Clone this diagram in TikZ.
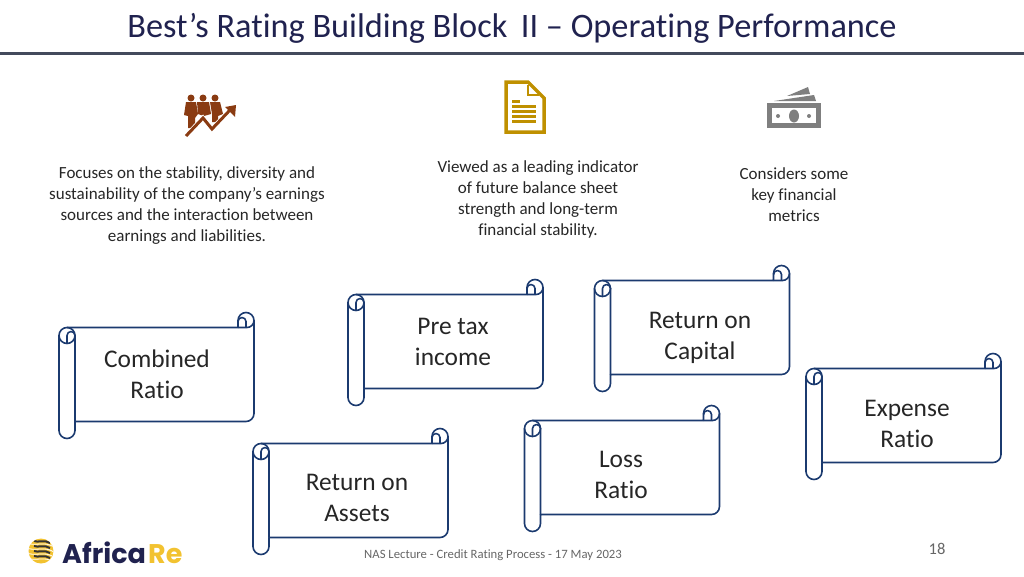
\documentclass[tikz,border=0pt]{standalone}
\usepackage{fontspec}
\setmainfont[Ligatures=CommonOff]{Carlito}
\newfontfamily\logofont{Poppins}
\definecolor{titleblue}{HTML}{20224F}
\definecolor{rulegray}{HTML}{434A5C}
\definecolor{scrollblue}{HTML}{1B3A6F}
\definecolor{iconbrown}{HTML}{8A3B12}
\definecolor{icongold}{HTML}{BF9000}
\definecolor{icongray}{HTML}{7F7F7F}
\definecolor{logoyellow}{HTML}{F2C230}
\tikzset{
  scrollline/.style={draw=scrollblue,line width=1.6pt,line join=round},
  scrolltext/.style={font=\fontsize{25.4}{31}\selectfont,align=center,text=black!85},
  bodytext/.style={font=\fontsize{17}{21}\selectfont,align=center,text=black!85},
}
\begin{document}
\begin{tikzpicture}[x=1pt,y=1pt]
        \useasboundingbox (0,0) rectangle (1024,-576);

        \node[font=\fontsize{34.3}{38}\selectfont,text=titleblue] (title) at (512,-28) {Best’s Rating Building Block\, II – Operating Performance};
        \draw[rulegray,line width=3pt] (0,-53) -- (1024,-53);

        % icons
        \fill[iconbrown] (191,-98) circle (3.5) (203,-98) circle (3.5) (215,-98) circle (3.5);
        \fill[iconbrown] (186,-102) -- (196,-102) -- (198,-114) -- (195,-118) -- (195,-128) -- (188,-128) -- (188,-116) -- (184,-115) -- cycle;
        \fill[iconbrown] (197,-102) -- (209,-102) -- (211,-114) -- (204,-116) -- (198,-114) -- cycle;
        \fill[iconbrown] (210,-102) -- (220,-102) -- (223,-114) -- (218,-116) -- (218,-122) -- (212,-122) -- (212,-114) -- cycle;
        \draw[white,line width=4.6pt] (186,-136) -- (203,-118) -- (212,-129) -- (230,-110);
        \draw[iconbrown,line width=3pt] (186,-136) -- (203,-118) -- (212,-129) -- (230,-110);
        \fill[iconbrown] (236,-105) -- (225,-107) -- (235,-117) -- cycle;

        \draw[icongold,line width=3.5pt,line join=miter] (506,-82) -- (528,-82) -- (544,-98) -- (544,-132) -- (506,-132) -- cycle;
        \draw[icongold,line width=2.5pt] (528,-85) -- (528,-95) -- (539,-95);
        \draw[icongold,line width=3pt] (512,-101) -- (520,-101);
        \foreach \y in {106,111,116,121}
          \draw[icongold,line width=3pt] (512,-\y) -- (536,-\y);

        \fill[icongray] (787,-96) -- (808,-87) -- (810,-94) -- cycle;
        \fill[icongray] (774,-101) -- (814,-95) -- (816,-101) -- cycle;
        \fill[icongray] (767,-103) rectangle (821,-128);
        \fill[white] (772,-108) rectangle (816,-123);
        \fill[icongray] (794,-116) ellipse (5 and 6.5);
        \fill[icongray] (778,-116) circle (2) (809,-116) circle (2);

        % text under the icons
        \node[bodytext] (earnings) at (187,-205.5) {Focuses on the stability, diversity and\\sustainability of the company’s earnings\\sources and the interaction between\\earnings and liabilities.};
        \node[bodytext] (indicator) at (538,-199.5) {Viewed as a leading indicator\\of future balance sheet\\strength and long-term\\financial stability.};
        \node[bodytext] (metrics) at (794,-195) {Considers some\\key financial\\metrics};

        % scrolls, left edge / top edge / text offset
        \foreach \bx/\by/\tx/\ty/\bname/\btext in {59/312.5/98/62/combined/{Combined\\Ratio},348/279.5/105/62/pretax/{Pre tax\\income},594.5/265.5/105.5/72/capital/{Return on\\Capital},806/353.5/101/70/expense/{Expense\\Ratio},524.5/405.5/96.5/69/loss/{Loss\\Ratio},253/428.5/104/69/assets/{Return on\\Assets}}
        {
          \begin{scope}[shift={(\bx,-\by)}]
            \draw[scrollline] (0,-23) arc[start angle=180,end angle=90,radius=8] -- (179,-15) -- (179,-8)
              arc[start angle=180,end angle=0,radius=8] -- (195,-101)
              arc[start angle=0,end angle=-90,radius=8] -- (16,-109) -- (16,-118)
              arc[start angle=0,end angle=-180,radius=8] -- cycle;
            \draw[scrollline] (8,-15) arc[start angle=90,end angle=-90,radius=8] arc[start angle=-90,end angle=-180,radius=8];
            \draw[scrollline] (8,-31) -- (8,-23) arc[start angle=180,end angle=0,radius=4] -- (16,-109);
            \draw[scrollline] (195,-8) arc[start angle=0,end angle=-90,radius=7] -- (179,-15);
            \draw[scrollline] (187,-15) -- (187,-9) arc[start angle=0,end angle=180,radius=4];
            \node[scrolltext] (\bname) at (\tx,-\ty) {\btext};
          \end{scope}
        }

        % footer
        \begin{scope}
          \clip (41,-551) circle (12.5);
          \fill[logoyellow] (28,-566) rectangle (54,-538);
          \foreach \y in {541,546,551,556,561}
            \draw[white,line width=0.8pt] (28,-\y-2.5) .. controls (38,-\y-5) and (44,-\y) .. (54,-\y-6);
          \foreach \y in {541,546,551,556}
            \draw[black!80,line width=2pt] (34,-\y) .. controls (38,-\y-2) and (44,-\y+2) .. (50,-\y-2);
        \end{scope}
        \node[font=\logofont\bfseries\fontsize{27}{27}\selectfont,text=titleblue,anchor=base west,inner sep=0pt] (africa) at (62,-563) {Africa};
        \node[font=\logofont\bfseries\fontsize{27}{27}\selectfont,text=logoyellow,anchor=base west,inner sep=0pt] (re) at (148,-563) {Re};
        \node[font=\fontsize{12.7}{14}\selectfont,text=black!60] (lecture) at (493,-555) {NAS Lecture - Credit Rating Process - 17 May 2023};
        \node[font=\fontsize{16.5}{18}\selectfont,text=black!60] (pagenum) at (937,-549) {18};
\end{tikzpicture}
\end{document}
